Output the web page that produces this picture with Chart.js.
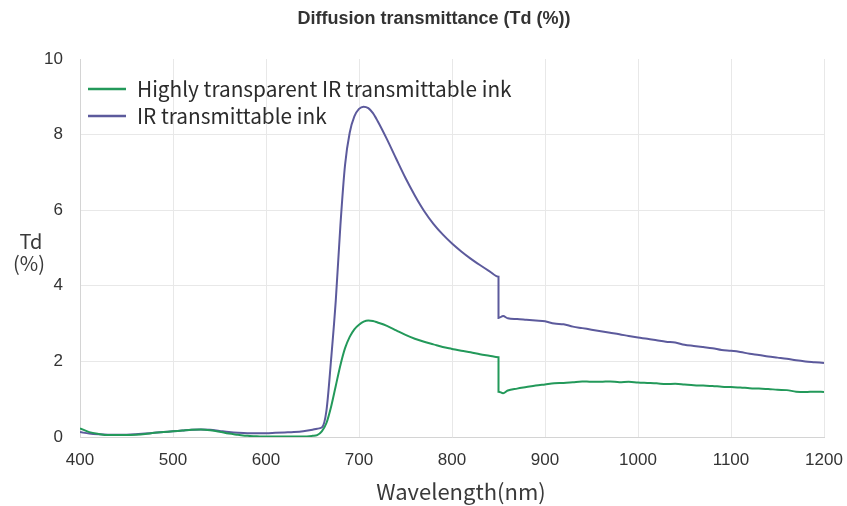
<!DOCTYPE html>
<html>
<head>
<meta charset="utf-8">
<script src="https://cdn.jsdelivr.net/npm/chart.js@4/dist/chart.umd.min.js"></script>
<style>
  html, body { margin: 0; padding: 0; background: #fff; }
  #wrap { width: 847px; height: 506px; }
</style>
</head>
<body>
<div id="wrap"><canvas id="tdChart" width="847" height="506"></canvas></div>
<script>
// wavelength (nm); 850 appears twice for the step in the measured curves
const wavelengths = [
  400, 410, 420, 430, 440, 450, 460, 470, 480, 490, 500, 510, 520, 530, 540, 550, 560, 570, 580, 590,
  600, 610, 620, 630, 640, 650, 655, 660, 665, 670, 675, 680, 685, 690, 695, 700, 705, 710, 715, 720,
  730, 740, 750, 760, 770, 780, 790, 800, 810, 820, 830, 840, 850, 850, 855, 860, 870, 880, 890, 900,
  910, 920, 930, 940, 950, 960, 970, 980, 990, 1000, 1010, 1020, 1030, 1040, 1050, 1060, 1070, 1080, 1090, 1100,
  1110, 1120, 1130, 1140, 1150, 1160, 1170, 1180, 1190, 1200
];

const highlyTransparentInk = [
  0.23, 0.13, 0.08, 0.05, 0.05, 0.05, 0.06, 0.08, 0.11, 0.13, 0.15, 0.17, 0.19, 0.20, 0.18, 0.14, 0.09, 0.06, 0.03, 0.02,
  0.01, 0.01, 0.01, 0.01, 0.01, 0.03, 0.05, 0.15, 0.37, 0.80, 1.35, 1.90, 2.35, 2.65, 2.85, 2.97, 3.05, 3.08, 3.07, 3.03,
  2.94, 2.82, 2.70, 2.60, 2.52, 2.45, 2.38, 2.33, 2.28, 2.24, 2.19, 2.15, 2.11, 1.20, 1.16, 1.23, 1.28, 1.32, 1.36, 1.39,
  1.42, 1.43, 1.45, 1.47, 1.46, 1.46, 1.47, 1.45, 1.46, 1.44, 1.43, 1.42, 1.40, 1.41, 1.39, 1.37, 1.36, 1.35, 1.33, 1.32,
  1.31, 1.29, 1.28, 1.27, 1.25, 1.24, 1.20, 1.19, 1.20, 1.19
];

const irTransmittableInk = [
  0.13, 0.09, 0.07, 0.06, 0.06, 0.06, 0.07, 0.09, 0.11, 0.13, 0.15, 0.17, 0.19, 0.20, 0.19, 0.16, 0.13, 0.11, 0.10, 0.10,
  0.10, 0.11, 0.12, 0.13, 0.15, 0.19, 0.22, 0.25, 0.70, 2.05, 3.60, 5.60, 7.20, 8.05, 8.48, 8.68, 8.74, 8.70, 8.57, 8.36,
  7.88, 7.36, 6.85, 6.39, 5.98, 5.64, 5.36, 5.12, 4.91, 4.72, 4.55, 4.39, 4.24, 3.15, 3.20, 3.14, 3.12, 3.10, 3.08, 3.06,
  3.00, 2.98, 2.92, 2.88, 2.84, 2.80, 2.76, 2.72, 2.67, 2.63, 2.60, 2.56, 2.52, 2.50, 2.44, 2.41, 2.38, 2.35, 2.30, 2.28,
  2.25, 2.20, 2.17, 2.13, 2.10, 2.07, 2.03, 2.00, 1.98, 1.96
];

const seriesLabels = ['Highly transparent IR transmittable ink', 'IR transmittable ink'];
const seriesColors = ['#23995a', '#5c5a9c'];

const xTicks = [400, 500, 600, 700, 800, 900, 1000, 1100, 1200];
const yTicks = [0, 2, 4, 6, 8, 10];

const chartTitle = 'Diffusion transmittance (Td (%))';
const xTitle = 'Wavelength(nm)';
const yTitle = ['Td', '(%)'];

const jpFont = '"Noto Sans CJK JP", "Noto Sans", sans-serif';
const tickFont = '"Liberation Sans", Arial, sans-serif';

const toPoints = values => values.map((v, i) => ({ x: wavelengths[i], y: v }));

// titles and the in-plot legend are painted on the canvas directly
const decorations = {
  id: 'decorations',
  afterDraw(chart) {
    const { ctx } = chart;
    ctx.save();
    ctx.fillStyle = '#333';
    ctx.font = 'bold 18px "Liberation Sans", Arial, sans-serif';
    ctx.textAlign = 'center';
    ctx.textBaseline = 'middle';
    ctx.fillText(chartTitle, 434, 19);

    ctx.fillStyle = '#3a3a3a';
    ctx.font = '22px ' + jpFont;
    ctx.fillText(xTitle, 461, 492);

    ctx.font = '20px ' + jpFont;
    ctx.fillText(yTitle[0], 31, 241);
    ctx.fillText(yTitle[1], 29, 263);

    ctx.textAlign = 'left';
    ctx.font = '20.8px ' + jpFont;
    chart.data.datasets.forEach((ds, i) => {
      const y = 89 + i * 27;
      ctx.strokeStyle = ds.borderColor;
      ctx.lineWidth = 2.5;
      ctx.beginPath();
      ctx.moveTo(88, y);
      ctx.lineTo(126, y);
      ctx.stroke();
      ctx.fillStyle = '#2b2b2b';
      ctx.fillText(ds.label, 137, y);
    });
    ctx.restore();
  }
};

new Chart(document.getElementById('tdChart'), {
  type: 'line',
  data: {
    datasets: [
      { label: seriesLabels[0], data: toPoints(highlyTransparentInk), borderColor: seriesColors[0] },
      { label: seriesLabels[1], data: toPoints(irTransmittableInk), borderColor: seriesColors[1] }
    ].map(item => ({ ...item, borderWidth: 2, pointRadius: 0, cubicInterpolationMode: 'monotone', fill: false }))
  },
  options: {
    responsive: false,
    animation: false,
    layout: { padding: { top: 59, right: 23, left: 0, bottom: 0 } },
    plugins: { legend: { display: false }, title: { display: false }, tooltip: { enabled: false } },
    scales: {
      x: {
        type: 'linear',
        min: 400,
        max: 1200,
        afterBuildTicks: scale => { scale.ticks = xTicks.map(v => ({ value: v })); },
        afterFit: scale => { scale.height = 69; scale.paddingLeft = 0; scale.paddingRight = 0; },
        grid: { color: '#e8e8e8', drawTicks: false },
        border: { color: '#d4d4d4' },
        ticks: { padding: 13, color: '#333', font: { family: tickFont, size: 17 }, callback: v => String(v) }
      },
      y: {
        min: 0,
        max: 10,
        afterBuildTicks: scale => { scale.ticks = yTicks.map(v => ({ value: v })); },
        afterFit: scale => { scale.width = 80; scale.paddingTop = 0; scale.paddingBottom = 0; },
        grid: { color: ctx => (ctx.tick && ctx.tick.value === 10 ? 'rgba(0,0,0,0)' : '#e8e8e8'), drawTicks: false },
        border: { color: '#d4d4d4' },
        ticks: { padding: 17, color: '#333', font: { family: tickFont, size: 17 }, callback: v => String(v) }
      }
    }
  },
  plugins: [decorations]
});
</script>
</body>
</html>
